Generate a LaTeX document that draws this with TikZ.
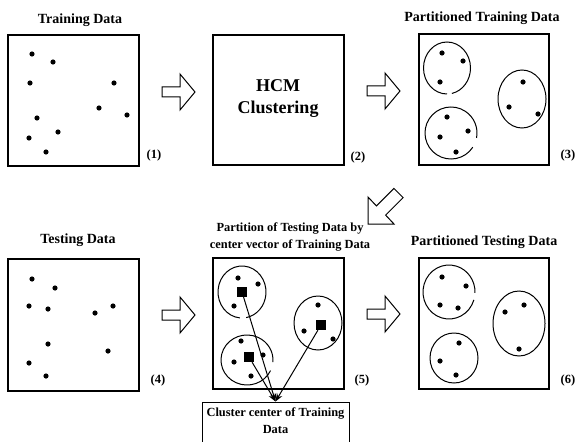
\documentclass[tikz,border=0pt]{standalone}
\usepackage{fontspec}
\setmainfont{Liberation Serif}
\usetikzlibrary{arrows.meta}
\begin{document}
\begin{tikzpicture}[x=1pt,y=-1pt,
  box/.style={draw, line width=1.3pt, inner sep=0pt, rectangle},
  ttl/.style={font=\bfseries\fontsize{14}{16}\selectfont, inner sep=0pt},
  sub/.style={font=\bfseries\fontsize{12.4}{17}\selectfont, inner sep=0pt, align=center},
  num/.style={font=\bfseries\fontsize{12.5}{14}\selectfont, inner sep=0pt},
  big/.style={font=\bfseries\fontsize{18}{22}\selectfont, inner sep=0pt, align=center},
  ring/.style={line width=1pt},
  ctr/.style={fill=black, minimum size=10pt, inner sep=0pt, rectangle},
  blk/.style={line width=1pt, draw, fill=white, line join=miter},
  link/.style={line width=1pt, -{Stealth[length=8pt,width=6pt]}},
  blockarrow/.pic={\draw[blk] (0,-5)--(18,-5)--(18,-18)--(33,0)--(18,18)--(18,5)--(0,5)--cycle;}
]
\useasboundingbox (0,0) rectangle (577,441);

% boxes
\node[box, minimum width=131pt, minimum height=131pt] (b1) at (73.5,100.5) {};
\node[box, minimum width=131pt, minimum height=130pt] (b2) at (278.5,100) {};
\node[box, minimum width=130pt, minimum height=131pt] (b3) at (484,99.5) {};
\node[box, minimum width=131pt, minimum height=132pt] (b4) at (73.5,325) {};
\node[box, minimum width=131pt, minimum height=131pt] (b5) at (278.5,323.5) {};
\node[box, minimum width=130pt, minimum height=131pt] (b6) at (484,323.5) {};
\node[box, line width=1pt, minimum width=147pt, minimum height=41pt] (cc) at (275.5,422.5) {};
\node[sub] (cctext) at (275.5,420.5) {Cluster center of Training\\Data};

% titles
\node[ttl] (t1) at (80,20) {Training Data};
\node[ttl] (t3) at (482,18) {Partitioned Training Data};
\node[ttl] (t4) at (78,240) {Testing Data};
\node[sub] (t5) at (290,236.5) {Partition of Testing Data by\\center vector of Training Data};
\node[ttl] (t6) at (484,242) {Partitioned Testing Data};
\node[big] (hcm) at (278,99) {HCM\\Clustering};

% numbers
\node[num] (n1) at (154,155) {(1)};
\node[num] (n2) at (358,157) {(2)};
\node[num] (n3) at (568,155) {(3)};
\node[num] (n4) at (158,380) {(4)};
\node[num] (n5) at (362,380) {(5)};
\node[num] (n6) at (568,380) {(6)};

% block arrows
\pic at (162,92) {blockarrow};
\pic at (367,91) {blockarrow};
\pic at (162,315) {blockarrow};
\pic at (367,314) {blockarrow};
\draw[blk] (368,224) -- (368,197) -- (376.4,205.9) -- (393.9,188.4) -- (403.1,197.6) -- (385.6,215.1) -- (394,224) -- cycle;

% dots
\foreach \p in {(32,54),(53,62),(30,83),(114,83),(99,108),(127,115),(37,118),(58,132),(29,138),(46,152),
  (442,53),(463,61),(440,82),(523,82),(509,107),(538,114),(447,117),(468,131),(440,137),(456,152),
  (32,279),(55,288),(29,306),(48,309),(95,313),(113,306),(48,344),(108,351),(29,363),(46,376),
  (238,278),(258,284),(234,306),(318,305),(304,331),(333,339),(241,341),(263,355),(234,362),(251,376),
  (442,277),(466,286),(440,305),(458,308),(505,312),(524,305),(519,349),(459,343),(440,361),(456,375)}
  \fill \p circle[radius=2.6];

% clusters, box 3
\draw[ring] ([shift={(90:23.5 and 26)}]447,68) arc[start angle=90, end angle=438, x radius=23.5, y radius=26];
\draw[ring] (522,99) ellipse[x radius=24, y radius=29];
\draw[ring] ([shift={(33:26 and 26)}]451,133) arc[start angle=33, end angle=371, x radius=26, y radius=26];

% clusters, box 5
\draw[ring] ([shift={(95:24 and 26)}]242,292) arc[start angle=95, end angle=440, x radius=24, y radius=26];
\draw[ring] (318,323) ellipse[x radius=24, y radius=27];
\draw[ring] ([shift={(25:26 and 25)}]247,360) arc[start angle=25, end angle=365, x radius=26, y radius=25];

% clusters, box 6
\draw[ring] ([shift={(17:26 and 27)}]449,292) arc[start angle=17, end angle=362, x radius=26, y radius=27];
\draw[ring] (519,323.5) ellipse[x radius=26, y radius=32.5];
\draw[ring] (454,358) ellipse[x radius=24, y radius=25];

% centers
\node[ctr] (sa) at (242,292) {};
\node[ctr] (sb) at (321,325) {};
\node[ctr] (sc) at (249,357) {};
\draw[link] (sa) -- (cc.north);
\draw[link] (sb) -- (cc.north);
\draw[link] (sc) -- (cc.north);
\end{tikzpicture}
\end{document}
